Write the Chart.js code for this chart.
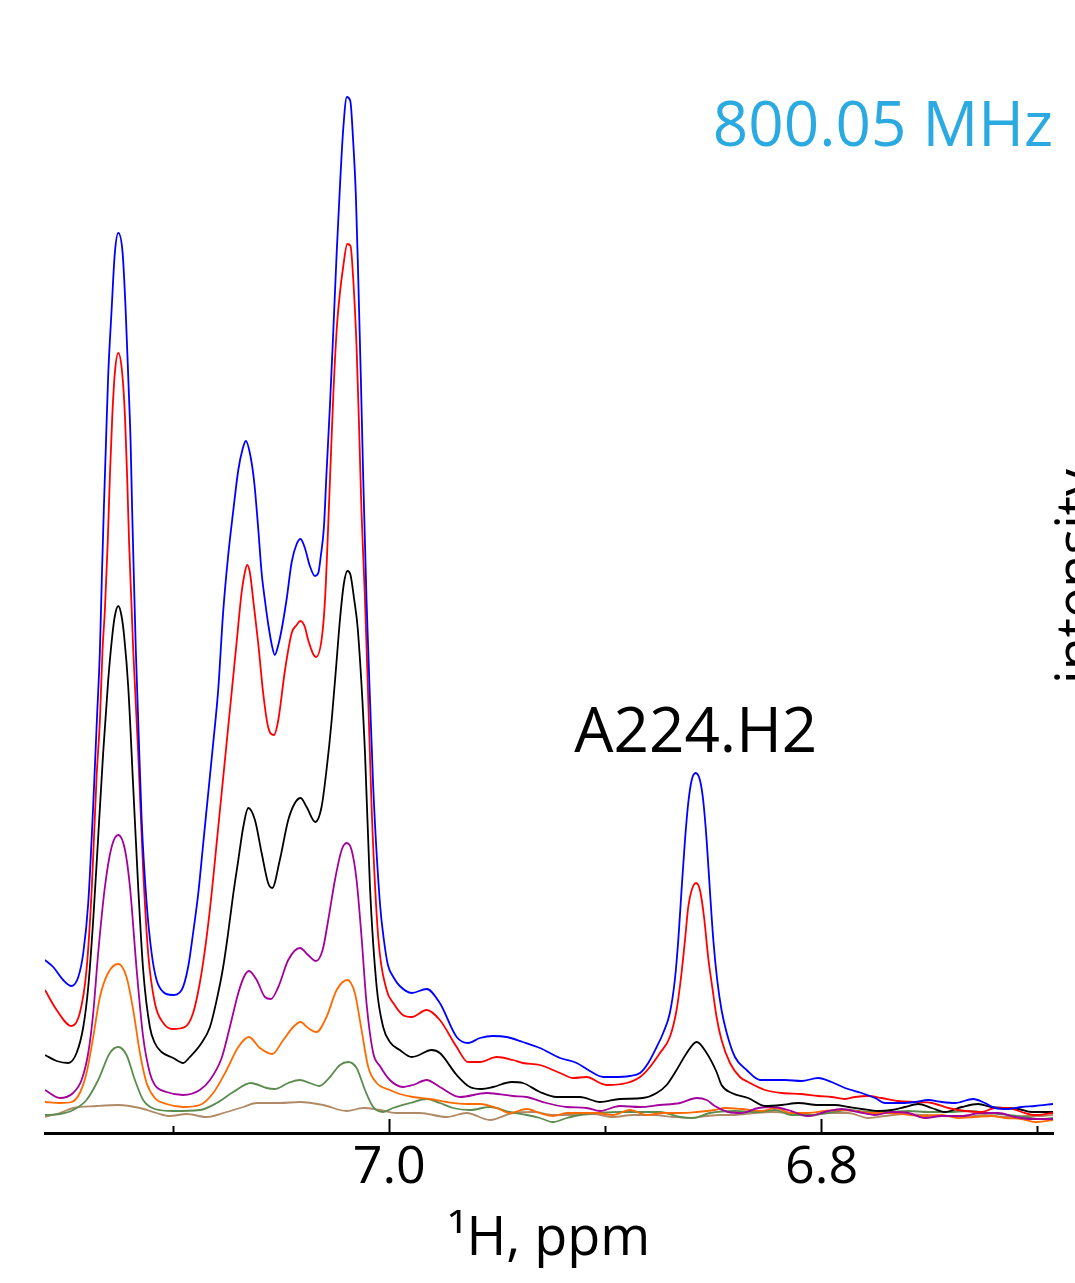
<!DOCTYPE html>
<html>
<head>
<meta charset="utf-8">
<script src="https://cdn.jsdelivr.net/npm/chart.js"></script>
<style>
  html, body { margin: 0; padding: 0; background: #ffffff; }
  canvas { display: block; }
</style>
</head>
<body>
<canvas id="c" width="1075" height="1283"></canvas>
<script>
// ---- data: [chemical shift (ppm), intensity (a.u.)] ----
const blueSpectrum = [
  [7.1592,173],[7.1554,166],[7.1508,153],[7.1469,147],[7.1438,156],[7.1415,180],[7.1392,230],[7.1369,328],[7.1352,413],[7.1338,483],
  [7.1329,556],[7.1320,623],[7.1310,690],[7.1300,756],[7.1284,823],[7.1269,880],[7.1253,900],[7.1233,880],[7.1219,823],[7.1207,756],
  [7.1196,690],[7.1189,623],[7.1181,556],[7.1172,483],[7.1161,413],[7.1145,313],[7.1122,230],[7.1099,180],[7.1076,153],[7.1045,141],
  [7.1002,138],[7.0960,143],[7.0930,166],[7.0907,200],[7.0883,240],[7.0860,290],[7.0837,340],[7.0814,390],[7.0791,443],[7.0768,521],
  [7.0745,577],[7.0722,621],[7.0698,663],[7.0678,684],[7.0663,692],[7.0641,676],[7.0624,650],[7.0606,605],[7.0590,560],[7.0575,533],
  [7.0559,508],[7.0543,488],[7.0529,478],[7.0513,488],[7.0498,503],[7.0475,533],[7.0451,571],[7.0428,589],[7.0410,594],[7.0390,585],
  [7.0367,567],[7.0344,557],[7.0328,560],[7.0317,576],[7.0302,606],[7.0290,660],[7.0274,728],[7.0259,800],[7.0243,880],[7.0228,946],
  [7.0213,1003],[7.0196,1036],[7.0180,1032],[7.0167,993],[7.0154,936],[7.0143,853],[7.0131,753],[7.0120,653],[7.0105,533],[7.0097,483],
  [7.0074,346],[7.0043,230],[7.0024,192],[7.0006,168],[6.9981,156],[6.9951,147],[6.9896,140],[6.9827,144],[6.9766,130],[6.9688,96],[6.9636,90],
  [6.9580,95],[6.9520,97],[6.9457,96],[6.9382,91],[6.9303,85],[6.9210,75],[6.9133,70],[6.9072,62],[6.9010,56],[6.8965,56],
  [6.8887,57],[6.8840,60],[6.8802,70],[6.8763,86],[6.8733,100],[6.8702,120],[6.8679,153],[6.8663,193],[6.8648,243],[6.8632,293],
  [6.8617,330],[6.8601,353],[6.8583,360],[6.8563,353],[6.8548,333],[6.8532,293],[6.8517,243],[6.8501,193],[6.8483,153],[6.8463,123],
  [6.8439,100],[6.8401,76],[6.8347,63],[6.8285,53],[6.8170,53],[6.8093,52],[6.8016,55],[6.7954,51],[6.7892,45],[6.7815,40],
  [6.7753,35],[6.7707,30],[6.7630,30],[6.7568,31],[6.7507,33],[6.7445,31],[6.7383,30],[6.7299,34],[6.7245,30],[6.7198,25],
  [6.7137,24],[6.7075,26],[6.7013,27],[6.6930,29]
];
const redSpectrum = [
  [7.1592,143],[7.1538,123],[7.1469,107],[7.1431,120],[7.1400,163],[7.1376,243],[7.1353,358],[7.1338,413],[7.1326,483],[7.1315,523],
  [7.1302,590],[7.1292,656],[7.1281,716],[7.1269,760],[7.1253,780],[7.1235,760],[7.1222,716],[7.1212,656],[7.1203,590],[7.1191,523],
  [7.1184,483],[7.1161,380],[7.1138,263],[7.1115,180],[7.1084,130],[7.1045,110],[7.1002,104],[7.0945,106],[7.0907,120],[7.0876,150],
  [7.0848,190],[7.0821,240],[7.0798,290],[7.0775,340],[7.0752,390],[7.0729,440],[7.0706,490],[7.0683,540],[7.0670,558],[7.0657,568],
  [7.0644,560],[7.0629,533],[7.0606,490],[7.0583,440],[7.0560,406],[7.0533,398],[7.0513,413],[7.0482,463],[7.0451,500],[7.0428,508],
  [7.0411,512],[7.0390,506],[7.0375,493],[7.0339,476],[7.0313,493],[7.0297,533],[7.0274,653],[7.0259,736],[7.0243,803],[7.0228,840],
  [7.0213,866],[7.0194,889],[7.0179,887],[7.0167,856],[7.0151,786],[7.0139,703],[7.0128,620],[7.0112,533],[7.0097,433],[7.0081,323],
  [7.0051,196],[7.0012,143],[6.9981,130],[6.9937,118],[6.9896,116],[6.9827,123],[6.9766,113],[6.9688,86],[6.9636,71],[6.9580,71],
  [6.9503,76],[6.9428,73],[6.9382,70],[6.9303,68],[6.9210,60],[6.9149,55],[6.9087,56],[6.9025,50],[6.8994,48],[6.8902,50],
  [6.8840,56],[6.8794,66],[6.8748,80],[6.8702,96],[6.8671,123],[6.8648,160],[6.8632,193],[6.8617,226],[6.8601,243],[6.8581,250],
  [6.8563,243],[6.8544,216],[6.8525,176],[6.8504,143],[6.8486,116],[6.8463,93],[6.8424,70],[6.8378,56],[6.8340,51],[6.8262,43],
  [6.8185,40],[6.8093,39],[6.8016,37],[6.7954,36],[6.7892,34],[6.7846,36],[6.7785,37],[6.7723,35],[6.7646,32],[6.7568,31],
  [6.7491,30],[6.7414,25],[6.7337,22],[6.7260,21],[6.7198,25],[6.7137,25],[6.7075,21],[6.7013,18],[6.6930,20]
];
const blackSpectrum = [
  [7.1592,78],[7.1538,72],[7.1485,70],[7.1446,80],[7.1415,106],[7.1392,146],[7.1369,213],[7.1346,296],[7.1323,380],[7.1300,452],
  [7.1281,497],[7.1269,517],[7.1253,527],[7.1238,517],[7.1226,497],[7.1207,446],[7.1184,346],[7.1161,246],[7.1138,163],[7.1107,106],
  [7.1084,90],[7.1053,81],[7.0999,75],[7.0953,70],[7.0922,76],[7.0868,90],[7.0829,106],[7.0798,133],[7.0768,166],[7.0745,200],
  [7.0722,238],[7.0698,273],[7.0675,306],[7.0652,325],[7.0621,313],[7.0590,280],[7.0560,250],[7.0541,245],[7.0506,273],[7.0467,313],
  [7.0436,330],[7.0410,335],[7.0382,326],[7.0342,311],[7.0313,326],[7.0290,363],[7.0266,413],[7.0243,473],[7.0228,513],[7.0210,549],
  [7.0193,562],[7.0179,558],[7.0163,535],[7.0145,503],[7.0112,380],[7.0089,246],[7.0058,146],[7.0028,106],[6.9997,91],[6.9951,83],
  [6.9896,76],[6.9873,77],[6.9804,83],[6.9766,80],[6.9688,58],[6.9627,46],[6.9573,44],[6.9520,46],[6.9434,51],[6.9382,50],
  [6.9303,41],[6.9226,36],[6.9118,36],[6.9025,31],[6.8933,34],[6.8827,35],[6.8763,40],[6.8717,48],[6.8671,63],[6.8624,80],
  [6.8578,91],[6.8532,80],[6.8486,61],[6.8463,48],[6.8416,40],[6.8340,35],[6.8262,27],[6.8185,28],[6.8108,30],[6.8016,28],
  [6.7938,28],[6.7877,26],[6.7815,24],[6.7738,22],[6.7676,23],[6.7615,26],[6.7553,29],[6.7491,25],[6.7430,21],[6.7352,26],
  [6.7276,29],[6.7214,26],[6.7152,25],[6.7091,24],[6.7029,21],[6.6930,21]
];
const purpleSpectrum = [
  [7.1592,43],[7.1523,35],[7.1462,40],[7.1423,53],[7.1392,80],[7.1369,120],[7.1346,180],[7.1315,246],[7.1284,286],[7.1253,298],
  [7.1222,283],[7.1199,246],[7.1168,163],[7.1138,96],[7.1107,60],[7.1084,48],[7.1030,41],[7.0953,38],[7.0876,43],[7.0829,53],
  [7.0775,75],[7.0737,106],[7.0698,140],[7.0672,156],[7.0649,162],[7.0613,153],[7.0575,136],[7.0547,134],[7.0513,146],[7.0467,173],
  [7.0413,185],[7.0375,178],[7.0339,172],[7.0308,183],[7.0282,213],[7.0251,253],[7.0220,283],[7.0197,290],[7.0174,283],[7.0151,253],
  [7.0128,196],[7.0105,130],[7.0074,80],[7.0043,67],[6.9997,53],[6.9937,46],[6.9890,48],[6.9827,53],[6.9766,46],[6.9673,36],
  [6.9549,40],[6.9428,37],[6.9364,36],[6.9272,30],[6.9179,26],[6.9087,25],[6.9025,22],[6.8933,27],[6.8840,26],[6.8748,28],
  [6.8655,30],[6.8578,35],[6.8532,33],[6.8494,27],[6.8432,21],[6.8370,20],[6.8293,25],[6.8231,26],[6.8154,23],[6.8062,17],
  [6.7985,21],[6.7907,24],[6.7831,21],[6.7753,18],[6.7676,21],[6.7599,20],[6.7522,15],[6.7445,17],[6.7352,17],[6.7260,20],
  [6.7183,20],[6.7106,16],[6.7029,14],[6.6930,14]
];
const orangeSpectrum = [
  [7.1592,31],[7.1523,30],[7.1469,31],[7.1431,40],[7.1400,60],[7.1369,96],[7.1338,136],[7.1300,160],[7.1253,169],[7.1215,156],
  [7.1184,123],[7.1153,80],[7.1122,50],[7.1084,35],[7.1030,29],[7.0953,26],[7.0876,28],[7.0814,40],[7.0752,63],[7.0698,86],
  [7.0649,96],[7.0598,85],[7.0541,79],[7.0490,93],[7.0444,106],[7.0410,111],[7.0375,105],[7.0336,101],[7.0290,116],[7.0243,143],
  [7.0194,153],[7.0159,140],[7.0128,103],[7.0097,66],[7.0058,50],[6.9997,43],[6.9951,39],[6.9890,36],[6.9812,34],[6.9735,31],
  [6.9642,29],[6.9580,29],[6.9503,25],[6.9442,20],[6.9364,24],[6.9303,20],[6.9243,17],[6.9179,20],[6.9041,20],[6.8965,18],
  [6.8887,23],[6.8809,18],[6.8734,20],[6.8655,20],[6.8578,21],[6.8494,23],[6.8447,25],[6.8370,24],[6.8278,22],[6.8216,25],
  [6.8139,20],[6.8062,20],[6.7985,22],[6.7907,23],[6.7846,22],[6.7769,20],[6.7692,20],[6.7630,19],[6.7537,17],[6.7445,18],
  [6.7368,15],[6.7291,16],[6.7214,17],[6.7152,15],[6.7075,14],[6.7013,11],[6.6930,13]
];
const greenSpectrum = [
  [7.1592,18],[7.1523,19],[7.1462,23],[7.1400,33],[7.1346,53],[7.1292,80],[7.1253,86],[7.1215,78],[7.1176,53],[7.1138,33],
  [7.1084,24],[7.0999,22],[7.0876,23],[7.0798,30],[7.0722,41],[7.0640,50],[7.0567,45],[7.0529,44],[7.0467,50],[7.0413,53],
  [7.0367,50],[7.0324,47],[7.0274,56],[7.0228,68],[7.0190,71],[7.0151,65],[7.0112,43],[7.0074,26],[7.0028,21],[6.9983,25],
  [6.9904,30],[6.9827,34],[6.9766,30],[6.9705,25],[6.9627,23],[6.9534,26],[6.9442,21],[6.9364,18],[6.9303,15],[6.9243,11],
  [6.9179,15],[6.9118,18],[6.9025,20],[6.8933,21],[6.8840,21],[6.8748,21],[6.8655,16],[6.8595,15],[6.8517,20],[6.8401,22],
  [6.8293,21],[6.8216,23],[6.8139,18],[6.8046,18],[6.7970,20],[6.7877,23],[6.7785,21],[6.7692,21],[6.7599,22],[6.7507,21],
  [6.7414,21],[6.7322,22],[6.7229,20],[6.7137,18],[6.7060,16],[6.6982,14],[6.6930,15]
];
const brownSpectrum = [
  [7.1592,16],[7.1523,20],[7.1462,25],[7.1353,27],[7.1253,28],[7.1153,25],[7.1076,20],[7.1014,17],[7.0937,19],[7.0845,16],
  [7.0752,21],[7.0675,26],[7.0613,30],[7.0506,30],[7.0413,31],[7.0305,28],[7.0197,22],[7.0120,25],[7.0043,23],[6.9966,20],
  [6.9858,20],[6.9735,16],[6.9642,20],[6.9534,13],[6.9428,20],[6.9335,21],[6.9243,18],[6.9150,18],[6.9058,19],[6.8965,16],
  [6.8873,18],[6.8780,18],[6.8688,16],[6.8609,15],[6.8532,17],[6.8470,18],[6.8401,18],[6.8309,20],[6.8231,21],[6.8154,20],
  [6.8062,17],[6.7970,20],[6.7877,20],[6.7785,15],[6.7707,17],[6.7615,19],[6.7522,18],[6.7430,17],[6.7337,16],[6.7245,18],
  [6.7152,16],[6.7060,17],[6.6982,17],[6.6930,18]
];

const seriesNames  = ['blue', 'red', 'black', 'purple', 'orange', 'green', 'brown'];
const seriesData   = [blueSpectrum, redSpectrum, blackSpectrum, purpleSpectrum, orangeSpectrum, greenSpectrum, brownSpectrum];
const seriesColors = ['#0000ff', '#ff0000', '#000000', '#a3009e', '#ff6a00', '#5b8c4f', '#b08a66'];

const tickValues = [7.1, 7.0, 6.9, 6.8, 6.7];
const tickLabels = ['', '7.0', '', '6.8', ''];
const xRange = { min: 6.6930, max: 7.1592 };
const xTitle = '\u00B9H, ppm';
const yTitle = 'intensity';
const freqLabel = '800.05 MHz';
const peakLabel = 'A224.H2';
const peakLabelAt = [6.8582, 381];   // [ppm, intensity] of the label baseline centre

const FONT = '"Open Sans", "Noto Sans", sans-serif';

const textPlugin = {
  id: 'texts',
  afterDraw(chart) {
    const { ctx, chartArea, scales: { x, y } } = chart;
    ctx.save();
    ctx.font = '62px ' + FONT;
    ctx.fillStyle = '#000000';
    ctx.textAlign = 'center';
    ctx.textBaseline = 'alphabetic';
    ctx.fillText(peakLabel, x.getPixelForValue(peakLabelAt[0]), y.getPixelForValue(peakLabelAt[1]));
    ctx.fillStyle = '#2aaae1';
    ctx.textAlign = 'right';
    ctx.fillText(freqLabel, chartArea.right, 146);
    ctx.translate(1095, 684);
    ctx.rotate(-Math.PI / 2);
    ctx.font = '54px ' + FONT;
    ctx.fillStyle = '#000000';
    ctx.textAlign = 'left';
    ctx.fillText(yTitle, 0, 0);
    ctx.restore();
  }
};

new Chart(document.getElementById('c'), {
  type: 'line',
  data: {
    datasets: seriesData.map((arr, i) => ({
      label: seriesNames[i],
      data: arr.map(p => ({ x: p[0], y: p[1] })),
      borderColor: seriesColors[i],
      backgroundColor: seriesColors[i],
      borderWidth: 1.8,
      pointRadius: 0,
      fill: false,
      cubicInterpolationMode: 'monotone'
    }))
  },
  options: {
    responsive: false,
    devicePixelRatio: 1,
    animation: false,
    layout: { padding: { left: 45, right: 22, top: 33, bottom: 0 } },
    plugins: { legend: { display: false }, tooltip: { enabled: false } },
    scales: {
      x: {
        type: 'linear',
        reverse: true,
        min: xRange.min,
        max: xRange.max,
        afterBuildTicks: (s) => { s.ticks = tickValues.map(v => ({ value: v })); },
        afterFit: (s) => { s.height = 150; },
        ticks: {
          autoSkip: false,
          maxRotation: 0,
          padding: 18,
          color: '#000000',
          font: { family: FONT, size: 52 },
          callback: (v) => {
            const k = tickValues.findIndex(t => Math.abs(t - v) < 1e-6);
            return k >= 0 ? tickLabels[k] : '';
          }
        },
        grid: {
          display: true,
          drawOnChartArea: false,
          drawTicks: true,
          tickLength: -14,
          tickWidth: 2,
          tickColor: '#000000',
          tickBorderDash: (c) => {
            const k = tickValues.findIndex(t => c.tick && Math.abs(t - c.tick.value) < 1e-6);
            return (k >= 0 && tickLabels[k]) ? [] : [9, 40];
          }
        },
        border: { display: true, color: '#000000', width: 3 },
        title: {
          display: true,
          text: xTitle,
          color: '#000000',
          font: { family: FONT, size: 54 },
          padding: { top: 0, bottom: 11 }
        }
      },
      y: {
        display: false,
        min: 0,
        max: 1100
      }
    }
  },
  plugins: [textPlugin]
});
</script>
</body>
</html>
